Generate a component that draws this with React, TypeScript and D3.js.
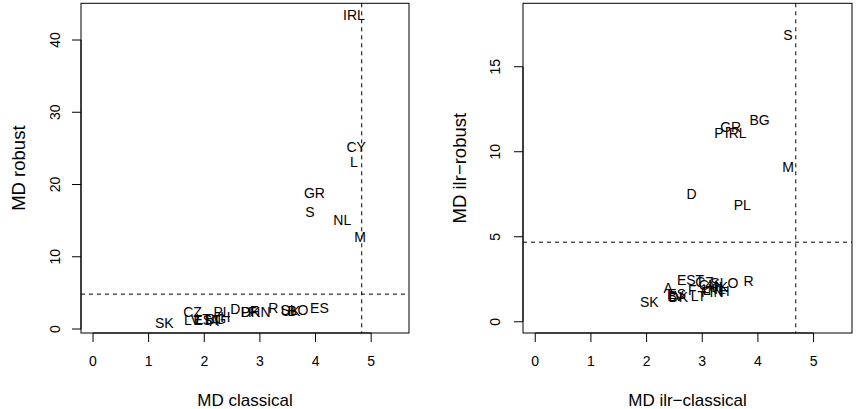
import React, { useRef, useEffect } from "react";
import * as d3 from "d3";

const WIDTH = 856;
const HEIGHT = 409;
const FONT = "'Liberation Sans', Arial, Helvetica, sans-serif";

// left panel: classical MD vs robust MD
const leftLabels = ["IRL", "CY", "L", "GR", "S", "NL", "M", "SK", "CZ", "LV", "EST", "LT", "BG", "A", "I", "H", "PL", "D", "P", "DK", "FIN", "F", "R", "SLO", "B", "UK", "ES"];
const leftClassical = [4.69, 4.73, 4.69, 3.98, 3.9, 4.48, 4.8, 1.28, 1.79, 1.78, 2.05, 1.98, 2.21, 2.18, 2.27, 2.38, 2.32, 2.56, 2.74, 2.83, 2.99, 2.9, 3.24, 3.62, 3.58, 3.55, 4.07];
const leftRobust = [43.46, 25.23, 23.16, 18.78, 16.24, 15.09, 12.69, 0.87, 2.39, 1.2, 1.24, 1.38, 1.38, 1.1, 1.52, 1.6, 2.35, 2.77, 2.35, 2.35, 2.35, 2.49, 2.87, 2.63, 2.49, 2.49, 2.87];
const leftCutoff = 4.83;

// right panel: ilr classical MD vs ilr robust MD
const rightLabels = ["S", "BG", "GR", "P", "IRL", "M", "D", "PL", "SK", "A", "EST", "B", "DK", "LV", "ES", "LT", "F", "FIN", "H", "CZ", "CY", "SLO", "I", "L", "NL", "UK", "R"];
const rightClassical = [4.54, 4.03, 3.51, 3.3, 3.6, 4.54, 2.81, 3.72, 2.05, 2.39, 2.79, 2.46, 2.57, 2.52, 2.54, 2.93, 2.82, 3.18, 3.4, 3.04, 3.11, 3.4, 3.24, 3.08, 3.26, 3.29, 3.83];
const rightRobust = [16.86, 11.86, 11.47, 11.08, 11.08, 9.12, 7.51, 6.86, 1.18, 1.98, 2.45, 1.51, 1.45, 1.51, 1.63, 1.51, 1.86, 1.75, 1.81, 2.34, 2.16, 2.28, 2.1, 1.86, 1.92, 2.04, 2.39];
const rightCutoff = 4.68;

const xTicks = [0, 1, 2, 3, 4, 5];
const leftYTicks = [0, 10, 20, 30, 40];
const rightYTicks = [0, 5, 10, 15];

const panels = [
  {
    left: 81, right: 409, top: 3.3, bottom: 333,
    xDomain: [-0.216, 5.68], yDomain: [-0.55, 45.08],
    labels: leftLabels, xs: leftClassical, ys: leftRobust, cutoff: leftCutoff,
    yTicks: leftYTicks, xTitle: "MD classical", yTitle: "MD robust",
    yTickX: 60, yTitleX: 25,
  },
  {
    left: 523, right: 852, top: 3.3, bottom: 333,
    xDomain: [-0.22, 5.69], yDomain: [-0.66, 18.73],
    labels: rightLabels, xs: rightClassical, ys: rightRobust, cutoff: rightCutoff,
    yTicks: rightYTicks, xTitle: "MD ilr\u2212classical", yTitle: "MD ilr\u2212robust",
    yTickX: 500, yTitleX: 466,
  },
];

const drawPanel = (svg: any, p: any) => {
  const x = d3.scaleLinear().domain(p.xDomain).range([p.left, p.right]);
  const y = d3.scaleLinear().domain(p.yDomain).range([p.bottom, p.top]);
  const g = svg.append("g");

  // dashed cut-off lines
  g.append("line")
    .attr("x1", x(p.cutoff)).attr("x2", x(p.cutoff))
    .attr("y1", p.top).attr("y2", p.bottom)
    .attr("stroke", "#000").attr("stroke-dasharray", "4,4");
  g.append("line")
    .attr("x1", p.left).attr("x2", p.right)
    .attr("y1", y(p.cutoff)).attr("y2", y(p.cutoff))
    .attr("stroke", "#000").attr("stroke-dasharray", "4,4");

  // point labels
  g.selectAll("text.lab")
    .data(p.labels)
    .enter()
    .append("text")
    .attr("class", "lab")
    .attr("x", (_: string, i: number) => x(p.xs[i]))
    .attr("y", (_: string, i: number) => y(p.ys[i]))
    .attr("text-anchor", "middle")
    .attr("dominant-baseline", "central")
    .attr("font-size", 14)
    .text((d: string) => d);

  // box
  g.append("rect")
    .attr("x", p.left).attr("y", p.top)
    .attr("width", p.right - p.left).attr("height", p.bottom - p.top)
    .attr("fill", "none").attr("stroke", "#000");

  // x axis
  g.append("line")
    .attr("x1", x(0)).attr("x2", x(5))
    .attr("y1", p.bottom).attr("y2", p.bottom)
    .attr("stroke", "#000");
  xTicks.forEach((t) => {
    g.append("line")
      .attr("x1", x(t)).attr("x2", x(t))
      .attr("y1", p.bottom).attr("y2", p.bottom + 9)
      .attr("stroke", "#000");
    g.append("text")
      .attr("x", x(t)).attr("y", p.bottom + 33)
      .attr("text-anchor", "middle")
      .attr("font-size", 14)
      .text(t);
  });

  // y axis
  const yt = p.yTicks;
  g.append("line")
    .attr("x1", p.left).attr("x2", p.left)
    .attr("y1", y(yt[0])).attr("y2", y(yt[yt.length - 1]))
    .attr("stroke", "#000");
  yt.forEach((t: number) => {
    g.append("line")
      .attr("x1", p.left - 9).attr("x2", p.left)
      .attr("y1", y(t)).attr("y2", y(t))
      .attr("stroke", "#000");
    g.append("text")
      .attr("transform", `translate(${p.yTickX}, ${y(t)}) rotate(-90)`)
      .attr("text-anchor", "middle")
      .attr("font-size", 14)
      .text(t);
  });

  // axis titles
  g.append("text")
    .attr("x", (p.left + p.right) / 2).attr("y", 406)
    .attr("text-anchor", "middle")
    .attr("font-size", 17)
    .text(p.xTitle);
  g.append("text")
    .attr("transform", `translate(${p.yTitleX}, ${(p.top + p.bottom) / 2}) rotate(-90)`)
    .attr("text-anchor", "middle")
    .attr("font-size", 18.5)
    .text(p.yTitle);
};

const App = () => {
  const ref = useRef<HTMLDivElement>(null);

  useEffect(() => {
    const el = ref.current;
    if (!el) return;
    d3.select(el).selectAll("*").remove();
    const svg = d3
      .select(el)
      .append("svg")
      .attr("width", WIDTH)
      .attr("height", HEIGHT)
      .style("font-family", FONT)
      .style("background", "#fff");
    panels.forEach((p) => drawPanel(svg, p));
  }, []);

  return <div ref={ref} style={{ position: "absolute", left: 0, top: 0 }}></div>;
};

export default App;
